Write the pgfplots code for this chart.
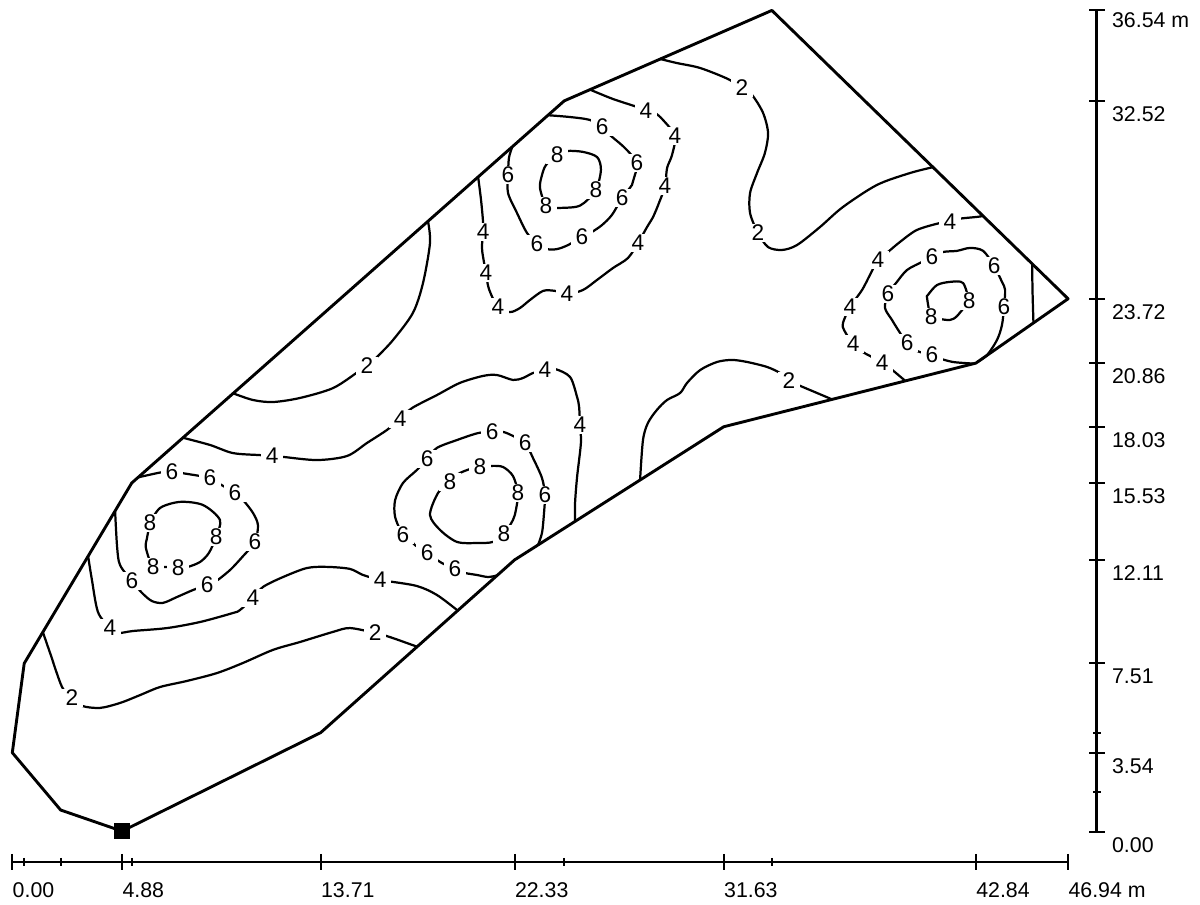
\documentclass[border=0pt]{standalone}
\usepackage{fontspec}
\setmainfont{Liberation Sans}
\usepackage{pgfplots}
\pgfplotsset{compat=1.18}
\pgfplotsset{
  cl/.style={black, line width=1.0pt, smooth, mark=none, line cap=round, line join=round},
  lab/.style={draw=none, mark=none, nodes near coords, point meta=explicit symbolic,
    nodes near coords style={anchor=center, fill=white, inner xsep=2.2pt, inner ysep=0.6pt, text=black,
      font=\fontsize{10.2}{12}\selectfont}},
}
\begin{document}
\begin{tikzpicture}
\begin{axis}[
  scale only axis, width=540pt, height=406.8pt,
  xmin=-0.547, xmax=52.805, ymin=-3.188, ymax=37.004,
  hide axis, clip=false,
]
\path (axis cs:-0.547,-3.188) rectangle (axis cs:52.805,37.004);

% ---- contour level 2
\addplot[cl] coordinates {(9.81,19.52) (10.70,19.22) (11.59,19.13) (12.79,19.31) (14.26,19.75) (15.37,20.47) (15.77,20.73) (16.21,21.13) (16.93,21.89) (17.81,23.09) (18.26,24.42) (18.57,26.20) (18.48,27.17)};
\addplot[cl] coordinates {(1.36,8.90) (1.68,7.97) (2.21,6.46) (2.65,5.97) (3.10,5.62) (3.90,5.53) (4.79,5.75) (5.68,6.10) (6.57,6.46) (7.77,6.73) (9.10,7.08) (10.26,7.53) (11.59,8.11) (12.79,8.46) (14.26,8.91) (15.01,9.08) (16.13,8.86) (16.79,8.68) (18.00,8.25)};
\addplot[cl] coordinates {(28.80,34.38) (29.55,34.20) (30.58,33.98) (31.82,33.49) (32.44,33.09) (32.89,32.78) (33.38,31.98) (33.60,31.09) (33.46,30.20) (33.11,29.31) (32.80,28.42) (32.80,27.53) (33.15,26.65) (33.60,26.02) (34.22,25.89) (34.89,26.11) (35.91,26.91) (36.93,27.80) (38.44,28.78) (39.91,29.31) (40.93,29.57)};
\addplot[cl] coordinates {(27.91,15.66) (28.04,17.44) (28.26,18.20) (28.66,18.78) (29.11,19.22) (29.69,19.53) (30.00,19.98) (30.58,20.55) (31.33,20.91) (32.00,21.00) (32.67,20.91) (33.55,20.69) (34.13,20.42) (34.53,20.07) (34.93,19.89) (35.78,19.53) (36.44,19.25)};

% ---- contour level 4
\addplot[cl] coordinates {(25.68,33.02) (26.71,32.60) (27.77,32.25) (28.17,32.07) (28.57,31.98) (28.93,31.67) (29.46,30.96) (29.33,30.11) (29.11,29.53) (29.02,28.73) (28.75,27.98) (28.49,27.36) (28.22,26.91) (27.82,26.20) (27.37,25.53) (26.71,25.09) (26.00,24.56) (25.37,24.11) (24.66,23.93) (24.13,24.07) (23.60,24.07) (23.02,23.67) (22.57,23.31) (22.13,23.13) (21.59,23.35) (21.19,24.16) (21.06,24.87) (20.93,25.58) (20.88,26.02) (20.93,26.69) (20.93,27.13) (20.84,28.11) (20.71,29.14)};
\addplot[cl] coordinates {(7.59,17.54) (8.79,17.22) (9.81,16.86) (11.01,16.77) (11.55,16.73) (12.04,16.69) (13.55,16.55) (14.88,16.73) (15.77,17.31) (16.66,17.89) (17.24,18.38) (17.77,18.86) (18.88,19.44) (19.90,19.98) (20.93,20.29) (21.55,20.33) (22.26,20.11) (22.71,20.20) (23.15,20.42) (23.68,20.55) (24.13,20.60) (24.80,20.24) (25.11,19.35) (25.20,18.91) (25.24,18.11) (25.28,17.31) (25.11,15.80) (25.02,14.64) (25.02,13.82)};
\addplot[cl] coordinates {(3.37,12.28) (3.54,11.22) (3.81,9.79) (4.34,9.08) (4.70,8.86) (5.37,8.95) (6.88,9.08) (8.35,9.35) (9.81,9.75) (10.12,9.88) (10.70,10.42) (11.15,10.91) (12.04,11.35) (13.10,11.75) (13.99,11.80) (15.01,11.71) (15.59,11.44) (16.35,11.22) (16.66,11.17) (17.99,10.95) (18.88,10.55) (19.80,9.86)};
\addplot[cl] coordinates {(43.16,27.40) (42.89,27.36) (42.05,27.27) (41.69,27.13) (41.25,27.09) (40.22,26.78) (39.47,26.25) (38.93,25.80) (38.49,25.44) (38.13,24.78) (37.78,24.11) (37.24,23.35) (36.93,22.64) (36.98,22.33) (37.38,21.71) (37.82,21.35) (38.22,21.13) (38.67,20.87) (39.02,20.64) (39.69,20.08)};
\addplot[cl] coordinates {(45.34,25.28) (45.36,24.00) (45.40,22.63)};

% ---- contour level 6
\addplot[cl] coordinates {(5.59,15.78) (6.70,16.02) (7.10,16.02) (7.54,15.97) (8.35,15.84) (8.79,15.75) (9.15,15.53) (9.37,15.40) (9.90,15.09) (10.26,14.77) (10.70,14.20) (10.92,13.66) (10.79,12.91) (10.26,12.28) (9.68,11.66) (9.01,11.13) (8.66,11.00) (8.03,10.77) (7.32,10.46) (6.70,10.20) (6.21,10.28) (5.77,10.64) (5.32,11.17) (4.79,11.88) (4.66,12.68) (4.57,14.29)};
\addplot[cl] coordinates {(23.37,12.77) (23.55,13.31) (23.64,14.20) (23.68,15.00) (23.55,15.75) (23.15,16.64) (22.80,17.31) (22.26,17.62) (21.82,17.80) (21.33,17.80) (20.71,17.75) (19.77,17.44) (18.88,17.09) (18.44,16.60) (17.99,16.11) (17.37,15.53) (17.02,14.77) (17.02,14.02) (17.37,13.22) (17.77,12.91) (17.90,12.77) (18.44,12.42) (18.88,12.11) (19.10,11.97) (19.68,11.71) (20.13,11.53) (20.66,11.44) (21.15,11.35) (21.55,11.42)};
\addplot[cl] coordinates {(23.82,31.88) (24.80,31.80) (25.68,31.67) (26.22,31.36) (26.57,31.00) (27.24,30.42) (27.77,29.76) (27.64,29.09) (27.55,28.78) (27.11,28.20) (26.66,27.45) (26.22,27.00) (25.77,26.69) (25.33,26.47) (24.71,26.11) (24.22,25.93) (23.77,25.93) (23.33,26.16) (22.88,26.65) (22.44,27.53) (22.04,28.42) (22.04,29.22) (22.08,29.98) (22.22,30.45)};
\addplot[cl] coordinates {(42.71,20.84) (41.82,20.91) (41.16,21.09) (40.89,21.22) (40.22,21.40) (39.78,21.75) (39.33,22.42) (39.11,22.78) (38.80,23.31) (38.93,23.93) (39.33,24.47) (39.78,25.00) (40.45,25.36) (40.89,25.58) (41.38,25.80) (42.00,25.85) (42.58,25.98) (43.16,25.85) (43.65,25.18) (44.00,24.47) (44.14,24.11) (44.09,23.35) (44.00,22.55) (43.78,21.89) (43.34,21.22) (42.90,20.90)};

% ---- contour level 8
\addplot[cl] coordinates {(6.12,13.75) (6.57,14.42) (7.46,14.69) (8.48,14.55) (9.23,13.89) (9.06,13.13) (8.74,12.42) (8.35,12.02) (7.81,11.80) (7.37,11.75) (6.83,11.80) (6.26,11.80) (5.94,12.64) (5.99,13.09) (6.12,13.75)};
\addplot[cl] coordinates {(19.46,15.57) (19.82,15.93) (20.35,16.15) (20.79,16.24) (21.33,16.29) (21.82,16.24) (22.26,15.84) (22.48,15.09) (22.39,14.33) (22.26,13.89) (21.86,13.26) (21.37,12.91) (20.66,12.86) (19.77,12.91) (19.02,13.44) (18.57,14.11) (18.93,15.09) (19.46,15.57)};
\addplot[cl] coordinates {(24.22,30.11) (24.66,30.29) (25.37,30.25) (26.00,30.02) (26.17,29.45) (25.95,28.56) (25.42,27.98) (25.02,27.80) (24.13,27.76) (23.73,27.85) (23.46,28.65) (23.55,29.22) (23.73,29.67) (24.22,30.11)};
\addplot[cl] coordinates {(42.54,23.62) (42.27,24.42) (41.69,24.47) (41.11,24.33) (40.71,23.89) (40.67,23.75) (40.85,22.91) (41.25,22.82) (41.69,22.78) (42.00,22.95) (42.54,23.62)};

% ---- contour labels
\addplot[lab] coordinates {
 (15.77,20.73)[2] (2.65,5.97)[2] (16.13,8.86)[2] (32.44,33.09)[2] (33.15,26.65)[2] (34.53,20.07)[2]
 (28.17,32.07)[4] (29.46,30.96)[4] (29.02,28.73)[4] (27.82,26.20)[4] (24.66,23.93)[4] (21.59,23.35)[4] (21.06,24.87)[4] (20.93,26.69)[4]
 (11.55,16.73)[4] (17.24,18.38)[4] (23.68,20.55)[4] (25.24,18.11)[4]
 (4.34,9.08)[4] (10.70,10.42)[4] (16.35,11.22)[4]
 (41.69,27.13)[4] (38.49,25.44)[4] (37.24,23.35)[4] (37.38,21.71)[4] (38.67,20.87)[4]
 (7.10,16.02)[6] (8.79,15.75)[6] (9.90,15.09)[6] (10.79,12.91)[6] (8.66,11.00)[6] (5.32,11.17)[6]
 (23.68,15.00)[6] (22.80,17.31)[6] (21.33,17.80)[6] (18.44,16.60)[6] (17.37,13.22)[6] (18.44,12.42)[6] (19.68,11.71)[6]
 (26.22,31.36)[6] (27.77,29.76)[6] (27.11,28.20)[6] (25.33,26.47)[6] (23.33,26.16)[6] (22.04,29.22)[6]
 (40.89,21.22)[6] (39.78,21.75)[6] (38.93,23.93)[6] (40.89,25.58)[6] (43.65,25.18)[6] (44.09,23.35)[6]
 (6.12,13.75)[8] (9.06,13.13)[8] (7.37,11.75)[8] (6.26,11.80)[8]
 (19.46,15.57)[8] (20.79,16.24)[8] (22.48,15.09)[8] (21.86,13.26)[8]
 (24.22,30.11)[8] (25.95,28.56)[8] (23.73,27.85)[8]
 (42.54,23.62)[8] (40.85,22.91)[8]
};

% ---- boundary
\addplot[black, line width=1.3pt, sharp plot, mark=none, line join=round] coordinates {
 (4.88,0.05) (13.71,4.43) (22.33,12.11) (31.63,18.03) (42.84,20.86) (46.94,23.72) (33.77,36.54) (24.54,32.52) (5.31,15.53) (0.53,7.51) (0.00,3.54) (2.15,0.99) (4.88,0.05)};
\addplot[only marks, mark=square*, mark size=3.4pt, black] coordinates {(4.88,0.05)};

% ---- bottom scale
\addplot[black, line width=1.1pt, mark=none] coordinates {(0,-1.31) (46.94,-1.31)};
\addplot[only marks, mark=|, mark size=3.6pt, black, mark options={line width=0.9pt}] coordinates {(0,-1.31) (4.88,-1.31) (13.71,-1.31) (22.33,-1.31) (31.63,-1.31) (42.84,-1.31) (46.94,-1.31)};
\addplot[only marks, mark=|, mark size=1.8pt, black, mark options={line width=0.9pt}] coordinates {(0.53,-1.31) (2.15,-1.31) (5.31,-1.31) (24.54,-1.31) (33.77,-1.31)};
\addplot[draw=none, mark=none, nodes near coords, point meta=explicit symbolic,
  nodes near coords style={anchor=north west, inner sep=0pt, yshift=-9.1pt, text=black, font=\fontsize{9.6}{11}\selectfont}]
  coordinates {(0,-1.31)[0.00] (4.88,-1.31)[4.88] (13.71,-1.31)[13.71] (22.33,-1.31)[22.33] (31.63,-1.31)[31.63] (42.84,-1.31)[42.84] (46.94,-1.31)[46.94 m]};

% ---- right scale
\addplot[black, line width=1.1pt, mark=none] coordinates {(48.21,0) (48.21,36.54)};
\addplot[only marks, mark=-, mark size=3.6pt, black, mark options={line width=0.9pt}] coordinates {(48.21,0) (48.21,3.54) (48.21,7.51) (48.21,12.11) (48.21,15.53) (48.21,18.03) (48.21,20.86) (48.21,23.72) (48.21,32.52) (48.21,36.54)};
\addplot[only marks, mark=-, mark size=1.8pt, black, mark options={line width=0.9pt}] coordinates {(48.21,1.78) (48.21,4.43)};
\addplot[draw=none, mark=none, nodes near coords, point meta=explicit symbolic,
  nodes near coords style={anchor=north west, inner sep=0pt, xshift=6.75pt, yshift=-2.25pt, text=black, font=\fontsize{9.6}{11}\selectfont}]
  coordinates {(48.21,0)[0.00] (48.21,3.54)[3.54] (48.21,7.51)[7.51] (48.21,12.11)[12.11] (48.21,15.53)[15.53] (48.21,18.03)[18.03] (48.21,20.86)[20.86] (48.21,23.72)[23.72] (48.21,32.52)[32.52]};
\addplot[draw=none, mark=none, nodes near coords, point meta=explicit symbolic,
  nodes near coords style={anchor=north west, inner sep=0pt, xshift=6.75pt, yshift=-0.9pt, text=black, font=\fontsize{9.6}{11}\selectfont}]
  coordinates {(48.21,36.54)[36.54 m]};
\end{axis}
\end{tikzpicture}
\end{document}
